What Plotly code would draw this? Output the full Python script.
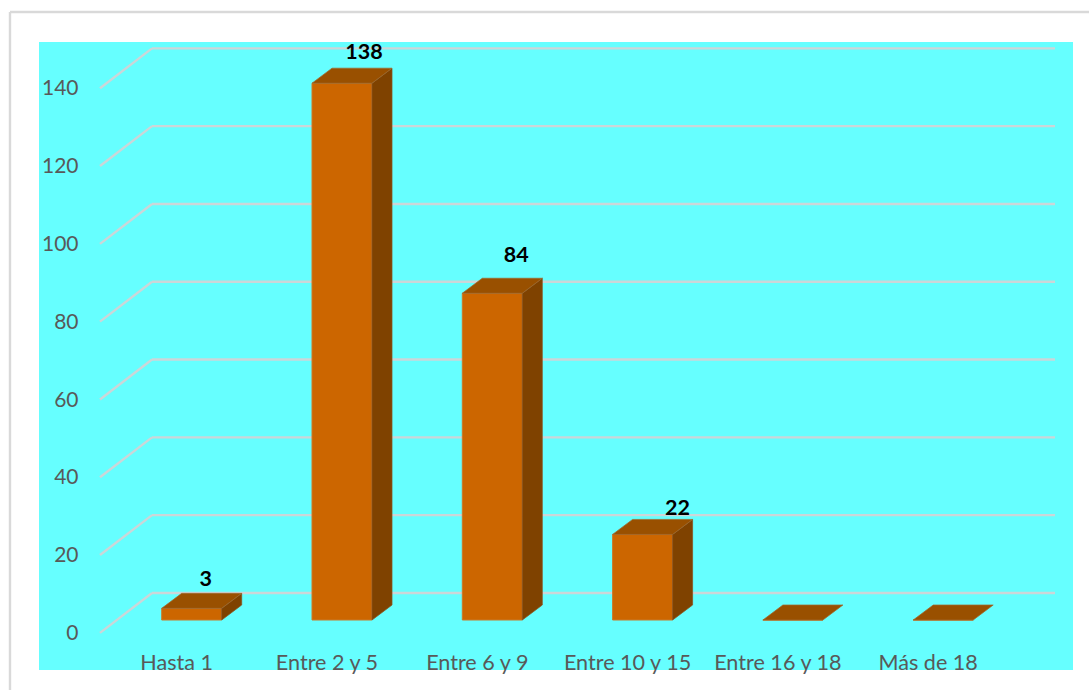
import plotly.graph_objects as go

categories = ["Hasta 1", "Entre 2 y 5", "Entre 6 y 9", "Entre 10 y 15", "Entre 16 y 18", "Más de 18"]
values = [3, 138, 84, 22, 0, 0]
y_ticks = [0, 20, 40, 60, 80, 100, 120, 140]

W, H = 1089, 690
L, R, T, B = 39, 1073, 42, 670
PX_X = 150.3
PX_Y = 3.89
X0_PX = 191.7
Y0_PX = 620

x_range = [(L - X0_PX) / PX_X, (R - X0_PX) / PX_X]
y_range = [(Y0_PX - B) / PX_Y, (Y0_PX - T) / PX_Y]

bar_w = 60 / PX_X
dep_x = 20 / PX_X
dep_y = 15 / PX_Y
FONT = "Lato, Carlito, Calibri, sans-serif"
GRID = "#CCD6D8"

indices = list(range(len(categories)))
shapes = []
for t in y_ticks:
    x_f, x_b, x_e = (100 - X0_PX) / PX_X, (152 - X0_PX) / PX_X, (1055 - X0_PX) / PX_X
    y_f, y_b = t - 3.3, t + 6.95
    shapes.append(dict(type="line", xref="x", yref="y", x0=x_f, y0=y_f, x1=x_b, y1=y_b,
                       line=dict(color=GRID, width=2.4), layer="below"))
    shapes.append(dict(type="line", xref="x", yref="y", x0=x_b, y0=y_b, x1=x_e, y1=y_b,
                       line=dict(color=GRID, width=2.4), layer="below"))

px = lambda p: (p - L) / (R - L)
py = lambda p: (B - p) / (B - T)
for a, b, c, d in [(10, 12, W + 5, 12), (10, 12, 10, H + 5)]:
    shapes.append(dict(type="line", xref="paper", yref="paper", x0=px(a), y0=py(b), x1=px(c), y1=py(d),
                       line=dict(color="#D9D9D9", width=2.4), layer="below"))

fig = go.Figure()
fig.add_trace(go.Bar(x=indices, y=values, width=bar_w, marker=dict(color="#CC6600", line=dict(color="#C87A2A", width=1)),
                     hoverinfo="skip"))

top_x, top_y, side_x, side_y = [], [], [], []
for i, v in zip(indices, values):
    l, r = i - bar_w / 2, i + bar_w / 2
    top_x += [l, r, r + dep_x, l + dep_x, l, None]
    top_y += [v, v, v + dep_y, v + dep_y, v, None]
    if v > 0:
        side_x += [r, r + dep_x, r + dep_x, r, r, None]
        side_y += [0, dep_y, v + dep_y, v, 0, None]

fig.add_trace(go.Scatter(x=side_x, y=side_y, mode="lines", fill="toself", fillcolor="#7F4200",
                         line=dict(color="#8A5320", width=0.75), hoverinfo="skip"))
fig.add_trace(go.Scatter(x=top_x, y=top_y, mode="lines", fill="toself", fillcolor="#995000",
                         line=dict(color="#A0682F", width=0.75), hoverinfo="skip"))

# value labels (hand-placed in the source, zero values unlabelled)
label_dx = [14, 22, 24, 35, 0, 0]
label_dy = [28, 30, 37, 25, 0, 0]
shown = [i for i in indices if values[i] > 0]
fig.add_trace(go.Scatter(
    x=[i + label_dx[i] / PX_X for i in shown],
    y=[values[i] + label_dy[i] / PX_Y for i in shown],
    text=[str(values[i]) for i in shown], mode="text", textposition="middle center",
    textfont=dict(family=FONT, size=21.5, color="#000000", weight="bold"),
    cliponaxis=False, hoverinfo="skip"))

# y tick labels
fig.add_trace(go.Scatter(
    x=[(78.5 - X0_PX) / PX_X] * len(y_ticks), y=[t - 3.8 for t in y_ticks],
    text=[str(t) for t in y_ticks], mode="text", textposition="middle left",
    textfont=dict(family=FONT, size=21, color="#595959"),
    cliponaxis=False, hoverinfo="skip"))

# category labels
fig.add_trace(go.Scatter(
    x=[i - 15 / PX_X for i in indices], y=[(Y0_PX - 664.5) / PX_Y] * len(indices),
    text=categories, mode="text", textposition="middle center",
    textfont=dict(family=FONT, size=21.6, color="#595959"),
    cliponaxis=False, hoverinfo="skip"))

fig.update_layout(
    width=W, height=H, autosize=False, showlegend=False,
    paper_bgcolor="#FFFFFF", plot_bgcolor="#66FFFF",
    margin=dict(l=L, r=W - R, t=T, b=H - B, pad=0),
    xaxis=dict(range=x_range, visible=False, fixedrange=True),
    yaxis=dict(range=y_range, visible=False, fixedrange=True),
    shapes=shapes,
)
fig.write_html("out.html", config=dict(displayModeBar=False),
               post_script="document.body.style.margin='0';document.body.style.overflow='hidden';")
